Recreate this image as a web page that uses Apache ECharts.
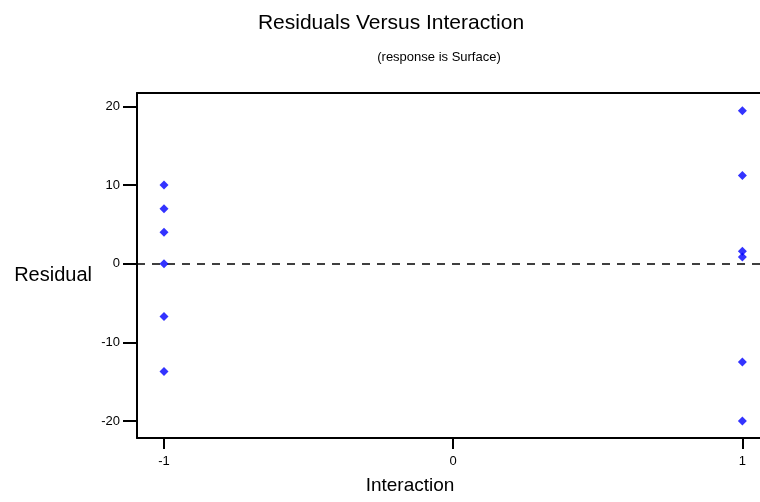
<!DOCTYPE html>
<html>
<head>
<meta charset="utf-8">
<script src="https://cdn.jsdelivr.net/npm/echarts@6/dist/echarts.min.js"></script>
<style>
  html, body { margin: 0; padding: 0; background: #fff; }
  #chart { width: 760px; height: 502px; }
</style>
</head>
<body>
<div id="chart"></div>
<script>
// Residuals of the fitted Surface model, grouped by the Interaction level
const interactionLow = [-1, -1, -1, -1, -1, -1];
const residualsLow = [10.0, 7.0, 4.0, 0.0, -6.7, -13.7];
const interactionHigh = [1, 1, 1, 1, 1, 1];
const residualsHigh = [19.45, 11.2, 1.6, 0.85, -12.5, -20.0];
const xTicks = [-1, 0, 1];
const yTicks = [-20, -10, 0, 10, 20];

const points = interactionLow.map((x, i) => [x, residualsLow[i]])
  .concat(interactionHigh.map((x, i) => [x, residualsHigh[i]]));

const font = 'Liberation Sans, Arial, sans-serif';
const chart = echarts.init(document.getElementById('chart'), null, { renderer: 'canvas' });

chart.setOption({
  animation: false,
  backgroundColor: '#ffffff',
  title: [
    {
      text: 'Residuals Versus Interaction',
      left: 386, top: 8, textAlign: 'center',
      textStyle: { fontFamily: font, fontSize: 21, fontWeight: 'normal', color: '#000' }
    },
    {
      text: '(response is Surface)',
      left: 434, top: 46, textAlign: 'center',
      textStyle: { fontFamily: font, fontSize: 13, fontWeight: 'normal', color: '#000' }
    }
  ],
  grid: { left: 137, top: 93, right: 0, bottom: 64, containLabel: false },
  xAxis: [
    {
      type: 'value',
      min: -1.0934, max: 1.061,
      position: 'bottom',
      name: 'Interaction',
      nameLocation: 'middle',
      nameGap: 38,
      nameTextStyle: { fontFamily: font, fontSize: 19, color: '#000', padding: [0, 77, 0, 0] },
      axisLine: { show: true, onZero: false, lineStyle: { color: '#000', width: 2 } },
      axisTick: { show: true, inside: false, length: 11, lineStyle: { color: '#000', width: 2 },
        customValues: xTicks },
      axisLabel: { fontFamily: font, fontSize: 13, color: '#000', margin: 17,
        customValues: xTicks, formatter: v => String(v) },
      splitLine: { show: false }
    },
    {
      type: 'value',
      min: -1.0934, max: 1.061,
      position: 'top',
      axisLine: { show: true, onZero: false, lineStyle: { color: '#000', width: 2 } },
      axisTick: { show: false },
      axisLabel: { show: false },
      splitLine: { show: false }
    }
  ],
  yAxis: {
    type: 'value',
    min: -22.15, max: 21.7,
    name: 'Residual',
    nameLocation: 'middle',
    nameRotate: 0,
    nameGap: 45,
    nameTextStyle: { fontFamily: font, fontSize: 20, color: '#000', align: 'right', verticalAlign: 'top' },
    axisLine: { show: true, onZero: false, lineStyle: { color: '#000', width: 2 } },
    axisTick: { show: true, inside: false, length: 14, lineStyle: { color: '#000', width: 2 },
      customValues: yTicks },
    axisLabel: { fontFamily: font, fontSize: 13, color: '#000', margin: 17,
      customValues: yTicks, formatter: v => String(v) },
    splitLine: { show: false }
  },
  series: [
    {
      type: 'scatter',
      xAxisIndex: 0,
      data: points,
      symbol: 'diamond',
      symbolSize: 9,
      itemStyle: { color: '#0000ff' },
      z: 3,
      markLine: {
        silent: true,
        symbol: 'none',
        label: { show: false },
        lineStyle: { color: '#000', width: 1.5, type: [8, 7] },
        data: [{ yAxis: 0 }],
        z: 2
      }
    }
  ]
});
</script>
</body>
</html>
